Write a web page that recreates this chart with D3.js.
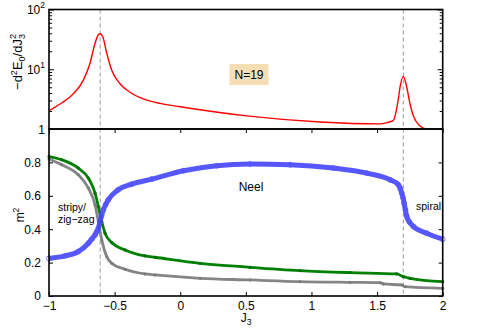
<!DOCTYPE html>
<html>
<head>
<meta charset="utf-8">
<script src="https://cdn.jsdelivr.net/npm/d3@7"></script>
<style>
  body { margin: 0; background: #fff; }
  svg text { font-family: "Liberation Sans", Arial, sans-serif; fill: #000; }
</style>
</head>
<body>
<svg id="drawing_region"></svg>
<script>
// top panel: -d2E0/dJ3^2 (log scale)
const curvJ   = [-1.0, -0.916, -0.815, -0.739, -0.688, -0.649, -0.624, -0.611, -0.591, -0.560, -0.522, -0.459, -0.383, -0.281, -0.154, 0.0, 0.507, 1.066, 1.523, 1.575, 1.622, 1.660, 1.675, 1.700, 1.726, 1.751, 1.776, 1.828, 1.866, 1.90];
const curvVal = [2.02, 2.62, 3.87, 6.51, 12.5, 27.3, 37.7, 39.2, 35.3, 18.5, 9.6, 5.72, 4.12, 3.19, 2.68, 2.36, 1.66, 1.31, 1.22, 1.28, 1.38, 2.98, 5.0, 7.6, 5.0, 2.62, 1.66, 1.12, 1.0, 0.97];

// bottom panel: m^2 order parameters
const neelJ = [-1.0, -0.878, -0.777, -0.700, -0.675, -0.649, -0.636, -0.624, -0.611, -0.600, -0.586, -0.568, -0.548, -0.472, -0.370, -0.217, 0.024, 0.278, 0.532, 0.837, 1.167, 1.421, 1.599, 1.662, 1.676, 1.688, 1.697, 1.706, 1.716, 1.726, 1.745, 1.777, 1.878, 2.0];
const neelM = [0.225, 0.24, 0.266, 0.316, 0.34, 0.366, 0.385, 0.406, 0.446, 0.48, 0.516, 0.548, 0.576, 0.636, 0.670, 0.70, 0.75, 0.78, 0.79, 0.786, 0.766, 0.736, 0.696, 0.666, 0.645, 0.616, 0.59, 0.556, 0.515, 0.476, 0.445, 0.416, 0.376, 0.34];

const greenJ = [-1.0, -0.903, -0.777, -0.700, -0.649, -0.624, -0.598, -0.573, -0.522, -0.421, -0.268, -0.192, 0.151, 0.532, 0.913, 1.294, 1.650, 1.700, 1.751, 2.0];
const greenM = [0.835, 0.816, 0.766, 0.706, 0.616, 0.536, 0.446, 0.376, 0.32, 0.276, 0.24, 0.232, 0.196, 0.172, 0.152, 0.14, 0.132, 0.116, 0.106, 0.086];

const grayJ = [-1.0, -0.903, -0.777, -0.700, -0.649, -0.624, -0.598, -0.560, -0.522, -0.421, -0.268, -0.192, 0.151, 0.532, 0.913, 1.294, 1.523, 1.548, 1.688, 1.713, 2.0];
const grayM = [0.82, 0.786, 0.726, 0.646, 0.546, 0.446, 0.336, 0.236, 0.196, 0.16, 0.132, 0.126, 0.106, 0.096, 0.086, 0.082, 0.08, 0.072, 0.066, 0.056, 0.046];

const transitions = [-0.61, 1.70];
const xTicks = [-1, -0.5, 0, 0.5, 1, 1.5, 2];
const mTicks = [0, 0.2, 0.4, 0.6, 0.8, 1];
const logMajor = [1, 10, 100];

const config = {
    width: 491,
    height: 328,
    left: 49,
    right: 442.7,
    top: 9.5,
    mid: 129,
    bottom: 296
};

const svg = d3.select('#drawing_region')
    .attr('width', config.width)
    .attr('height', config.height);

const x = d3.scaleLinear().domain([-1, 2]).range([config.left, config.right]);
const yTop = d3.scaleLog().domain([1, 100]).range([config.mid, config.top]);
const yBot = d3.scaleLinear().domain([0, 1]).range([config.bottom, config.mid]);

// clip regions
const defs = svg.append('defs');
defs.append('clipPath').attr('id', 'clipTop').append('rect')
    .attr('x', config.left).attr('y', config.top)
    .attr('width', config.right - config.left).attr('height', config.mid - config.top);
defs.append('clipPath').attr('id', 'clipBot').append('rect')
    .attr('x', config.left - 3).attr('y', config.mid)
    .attr('width', config.right - config.left + 6).attr('height', config.bottom - config.mid);

// dashed transition lines
svg.selectAll('.trans')
    .data(transitions)
    .enter()
    .append('line')
    .attr('x1', d => x(d)).attr('x2', d => x(d))
    .attr('y1', config.top).attr('y2', config.bottom)
    .attr('stroke', '#9a9a9a')
    .attr('stroke-width', 1)
    .attr('stroke-dasharray', '4,3');

// ---- top panel ----
const curvData = curvJ.map((d, i) => ({ j: d, v: curvVal[i] }));
svg.append('path')
    .datum(curvData)
    .attr('clip-path', 'url(#clipTop)')
    .attr('fill', 'none')
    .attr('stroke', '#ff0000')
    .attr('stroke-width', 1.4)
    .attr('d', d3.line().x(d => x(d.j)).y(d => yTop(d.v)).curve(d3.curveMonotoneX));

// log axis ticks, minor and major, both sides, inward
const minorTicks = yTop.ticks().filter(d => logMajor.indexOf(d) < 0);
svg.append('g')
    .attr('transform', `translate(${config.left},0)`)
    .call(d3.axisLeft(yTop).tickValues(minorTicks).tickSize(-3).tickFormat(''));
svg.append('g')
    .attr('transform', `translate(${config.right},0)`)
    .call(d3.axisRight(yTop).tickValues(minorTicks).tickSize(-3).tickFormat(''));
svg.append('g')
    .attr('transform', `translate(${config.left},0)`)
    .call(d3.axisLeft(yTop).tickValues(logMajor).tickSize(-5).tickFormat(''));
svg.append('g')
    .attr('transform', `translate(${config.right},0)`)
    .call(d3.axisRight(yTop).tickValues(logMajor).tickSize(-5).tickFormat(''));

// log labels with superscripts
logMajor.forEach(d => {
    const e = Math.round(Math.log10(d));
    const t = svg.append('text')
        .attr('x', config.left - 4)
        .attr('y', yTop(d) + 4.5)
        .attr('text-anchor', 'end')
        .style('font-size', '12px');
    if (e === 0) {
        t.text('1');
    } else {
        t.append('tspan').text('10');
        t.append('tspan').attr('dy', -6).style('font-size', '8.5px').text(e);
    }
});

// N=19 box
svg.append('rect')
    .attr('x', 229.5).attr('y', 64)
    .attr('width', 39).attr('height', 21)
    .attr('fill', '#f5deb3');
svg.append('text')
    .attr('x', 249).attr('y', 79)
    .attr('text-anchor', 'middle')
    .style('font-size', '12px')
    .text('N=19');

// y label, top
const yl = svg.append('text')
    .attr('transform', 'translate(22,62) rotate(-90)')
    .attr('text-anchor', 'middle')
    .style('font-size', '13px');
yl.append('tspan').text('\u2212d');
yl.append('tspan').attr('dy', -5).style('font-size', '9px').text('2');
yl.append('tspan').attr('dy', 5).text('E');
yl.append('tspan').attr('dy', 3).style('font-size', '9px').text('0');
yl.append('tspan').attr('dy', -3).text('/dJ');
yl.append('tspan').attr('dy', 3).style('font-size', '9px').text('3');
yl.append('tspan').attr('dy', -9).attr('dx', -5).style('font-size', '9px').text('2');

// ---- bottom panel ----
const lineM = d3.line().x(d => x(d.j)).y(d => yBot(d.m)).curve(d3.curveMonotoneX);
const greenData = greenJ.map((d, i) => ({ j: d, m: greenM[i] }));
const grayData = grayJ.map((d, i) => ({ j: d, m: grayM[i] }));
const neelData = neelJ.map((d, i) => ({ j: d, m: neelM[i] }));

const gBot = svg.append('g').attr('clip-path', 'url(#clipBot)');

gBot.append('path').datum(grayData)
    .attr('fill', 'none').attr('stroke', '#858585').attr('stroke-width', 2.8)
    .attr('d', lineM);
gBot.selectAll('.grayDot').data(grayData).enter().append('circle')
    .attr('cx', d => x(d.j)).attr('cy', d => yBot(d.m)).attr('r', 1.5)
    .attr('fill', '#7a7a7a');

gBot.append('path').datum(greenData)
    .attr('fill', 'none').attr('stroke', '#008000').attr('stroke-width', 2.8)
    .attr('d', lineM);
gBot.selectAll('.greenDot').data(greenData).enter().append('circle')
    .attr('cx', d => x(d.j)).attr('cy', d => yBot(d.m)).attr('r', 1.6)
    .attr('fill', '#007000');

gBot.append('path').datum(neelData)
    .attr('fill', 'none').attr('stroke', '#3a3aff').attr('stroke-width', 5)
    .attr('stroke-opacity', 0.85)
    .attr('d', lineM);
gBot.selectAll('.neelDot').data(neelData).enter().append('circle')
    .attr('cx', d => x(d.j)).attr('cy', d => yBot(d.m)).attr('r', 2.5)
    .attr('fill', 'none').attr('stroke', '#5555ff').attr('stroke-width', 0.8);

// bottom axes, inward ticks
svg.append('g')
    .attr('transform', `translate(0,${config.bottom})`)
    .call(d3.axisBottom(x).tickValues(xTicks).tickSize(-4).tickPadding(5.5).tickFormat(d3.format('')));
svg.append('g')
    .attr('transform', `translate(0,${config.mid})`)
    .call(d3.axisTop(x).tickValues(xTicks).tickSize(-4).tickFormat(''));
svg.append('g')
    .attr('transform', `translate(${config.left},0)`)
    .call(d3.axisLeft(yBot).tickValues(mTicks).tickSize(-4).tickPadding(8)
        .tickFormat(d => d === 1 ? '' : d3.format('')(d)));
svg.append('g')
    .attr('transform', `translate(${config.right},0)`)
    .call(d3.axisRight(yBot).tickValues(mTicks).tickSize(-4).tickFormat(''));

svg.selectAll('.domain').remove();
svg.selectAll('.tick line').attr('stroke', '#000').attr('stroke-width', 1);
svg.selectAll('.tick text').style('font-size', '12px').attr('fill', '#000')
    .style('font-family', '"Liberation Sans", Arial, sans-serif');

// frames
[[config.top, config.mid], [config.mid, config.bottom]].forEach(p => {
    svg.append('rect')
        .attr('x', config.left).attr('y', p[0])
        .attr('width', config.right - config.left).attr('height', p[1] - p[0])
        .attr('fill', 'none').attr('stroke', '#000').attr('stroke-width', 1.6);
});

// annotations
svg.append('text').attr('x', 251).attr('y', 191).attr('text-anchor', 'middle')
    .style('font-size', '12px').text('Neel');
svg.append('text').attr('x', 58).attr('y', 211).style('font-size', '10.5px').text('stripy/');
svg.append('text').attr('x', 58).attr('y', 223).style('font-size', '10.5px').text('zig\u2212zag');
svg.append('text').attr('x', 416).attr('y', 210).style('font-size', '10.5px').text('spiral');

// m^2 label
const ml = svg.append('text')
    .attr('transform', 'translate(24,215) rotate(-90)')
    .attr('text-anchor', 'middle')
    .style('font-size', '12px');
ml.append('tspan').text('m');
ml.append('tspan').attr('dy', -5).style('font-size', '8.5px').text('2');

// J3 label
const jl = svg.append('text')
    .attr('x', 246).attr('y', 321.5)
    .attr('text-anchor', 'middle')
    .style('font-size', '12px');
jl.append('tspan').text('J');
jl.append('tspan').attr('dy', 3.5).style('font-size', '8.5px').text('3');
</script>
</body>
</html>
